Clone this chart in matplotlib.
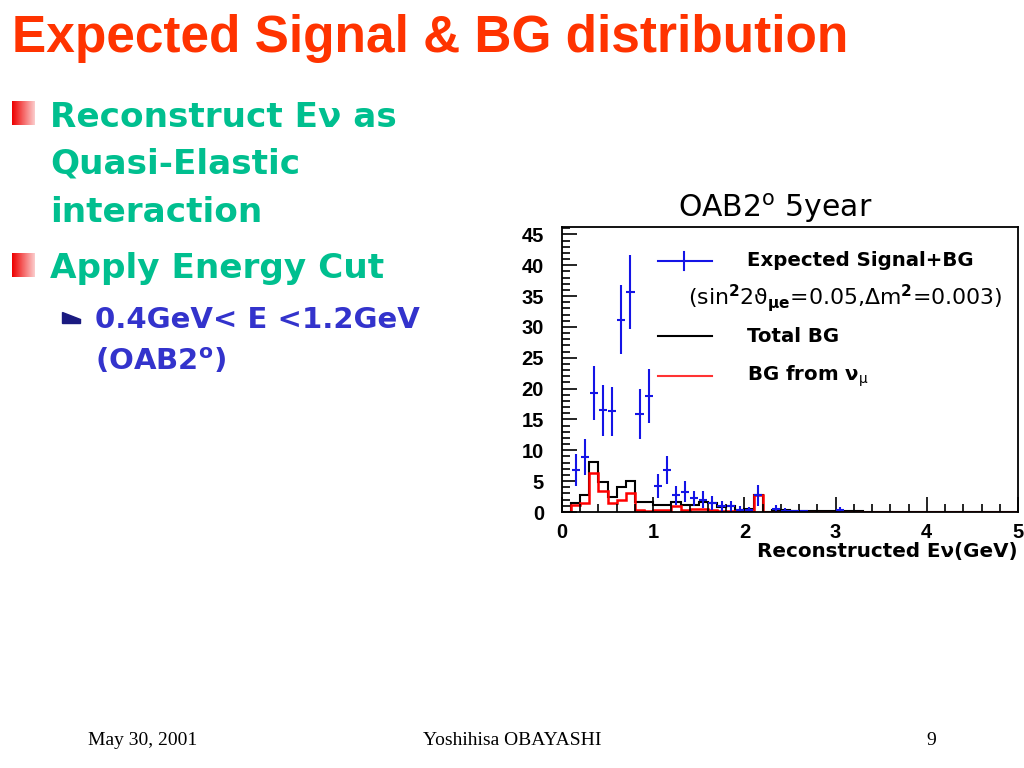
import numpy as np
import matplotlib
matplotlib.use("Agg")
import matplotlib.pyplot as plt
from matplotlib.patches import Polygon
from matplotlib.ticker import MultipleLocator

plt.rcParams['font.family'] = ['DejaVu Sans']
plt.rcParams['mathtext.fontset'] = 'custom'
plt.rcParams['mathtext.rm'] = 'DejaVu Sans'
plt.rcParams['mathtext.bf'] = 'DejaVu Sans:bold'
plt.rcParams['mathtext.it'] = 'DejaVu Sans:italic'

# signal + BG points (bin centres, counts, errors)
sig_x = [0.15, 0.25, 0.35, 0.45, 0.55, 0.65, 0.75, 0.85, 0.95, 1.05,
         1.15, 1.25, 1.35, 1.45, 1.55, 1.65, 1.75, 1.85, 1.95, 2.05,
         2.15, 2.35, 2.45, 2.55, 2.65, 3.05]
sig_y = [6.8, 8.9, 19.3, 16.5, 16.3, 31.2, 35.6, 15.9, 18.8, 4.2,
         6.8, 2.7, 3.3, 2.2, 2.0, 1.5, 0.9, 0.9, 0.4, 0.3,
         2.7, 0.5, 0.2, 0.1, 0.1, 0.3]
sig_err = [2.6, 2.9, 4.4, 4.1, 3.9, 5.6, 6.0, 4.0, 4.4, 2.0,
           2.3, 1.5, 1.7, 1.2, 1.4, 1.1, 0.9, 0.9, 0.6, 0.5,
           1.7, 0.7, 0.4, 0.3, 0.3, 0.5]

# background histograms, 0.1 GeV bins from 0 to 5 GeV
total_bg = [0.0, 1.5, 2.8, 8.1, 4.8, 2.5, 4.0, 5.0, 1.7, 1.6,
            1.1, 1.1, 1.6, 1.1, 1.2, 1.6, 1.4, 0.8, 0.9, 0.3,
            0.5, 2.7, 0.0, 0.4, 0.3, 0.2, 0.1, 0.1, 0.1, 0.1,
            0.2, 0.1, 0.1, 0.0, 0.0, 0.0, 0.0, 0.0, 0.0, 0.0,
            0.0, 0.0, 0.0, 0.0, 0.0, 0.0, 0.0, 0.0, 0.0, 0.0]
numu_bg = [0.0, 1.1, 1.4, 6.4, 3.4, 1.5, 1.9, 3.0, 0.3, 0.2,
           0.4, 0.4, 0.9, 0.4, 0.5, 0.5, 0.3, 0.15, 0.15, 0.15,
           0.15, 2.8, 0.0, 0.0, 0.0, 0.0, 0.0, 0.0, 0.0, 0.0,
           0.0, 0.0, 0.0, 0.0, 0.0, 0.0, 0.0, 0.0, 0.0, 0.0,
           0.0, 0.0, 0.0, 0.0, 0.0, 0.0, 0.0, 0.0, 0.0, 0.0]
edges = np.round(np.linspace(0, 5, len(total_bg) + 1), 2)

W, H = 1024, 768
fig = plt.figure(figsize=(W / 100, H / 100), dpi=100)
fx = lambda px: px / W
fy = lambda py: 1 - py / H

red = '#FF3300'
teal = '#00BF8F'
navy = '#3333CC'
blue = '#1414E6'

# slide title
fig.text(fx(12), fy(52), 'Expected Signal & BG distribution', color=red,
         fontsize=37, fontweight='bold', va='baseline', family='Liberation Sans')

# bullet squares with red -> white gradient
grad = np.linspace(0, 1, 64).reshape(1, -1)
cmap = matplotlib.colors.LinearSegmentedColormap.from_list('bul', ['#EE0000', '#FFFFFF'])
for top in (101, 253):
    bx = fig.add_axes([fx(12), fy(top + 24), fx(23), 24 / H])
    bx.imshow(grad, aspect='auto', cmap=cmap, vmin=0, vmax=1.25)
    bx.axis('off')

bullet_lines = [(127, 'Reconstruct Eν as'), (173, 'Quasi-Elastic'),
                (222, 'interaction'), (278, 'Apply Energy Cut')]
for yb, s in bullet_lines:
    fig.text(fx(50), fy(yb), s, color=teal, fontsize=24.7, fontweight='bold', va='baseline')

fig.patches.append(Polygon([[fx(62), fy(312)], [fx(62), fy(323)], [fx(80), fy(323)], [fx(80), fy(319)]],
                           closed=True, transform=fig.transFigure, color='#1A1A80'))
fig.text(fx(95), fy(328), '0.4GeV< E <1.2GeV', color=navy, fontsize=21,
         fontweight='bold', va='baseline')
fig.text(fx(95), fy(370), r'(OAB2$^{\mathbf{o}}$)', color=navy, fontsize=21,
         fontweight='bold', va='baseline')

# footer
for xp, s, ha in [(88, 'May 30, 2001', 'left'), (512, 'Yoshihisa OBAYASHI', 'center'),
                  (926, '9', 'left')]:
    fig.text(fx(xp), fy(745), s, fontsize=14, family='Liberation Serif', va='baseline', ha=ha)

# chart
fig.text(fx(678), fy(217), r'OAB2$^{\rm o}$ 5year', fontsize=21.5, va='baseline')

ax = fig.add_axes([fx(562), fy(512), fx(456), 285 / H])
ax.stairs(total_bg, edges, color='black', lw=1.5)
ax.stairs(numu_bg, edges, color='#FF0000', lw=1.8)
ax.errorbar(sig_x, sig_y, yerr=sig_err, xerr=0.045, fmt='none', ecolor=blue,
            elinewidth=1.5, capsize=0)
ax.set_xlim(0, 5)
ax.set_ylim(0, 46.2)
ax.xaxis.set_major_locator(MultipleLocator(1))
ax.xaxis.set_minor_locator(MultipleLocator(0.2))
ax.yaxis.set_major_locator(MultipleLocator(5))
ax.yaxis.set_minor_locator(MultipleLocator(1))
ax.tick_params(which='both', direction='in', top=False, right=False, width=1.2)
ax.tick_params(which='major', length=11, labelsize=14.5)
ax.tick_params(which='minor', length=5.5)
ax.tick_params(axis='y', pad=13)
ax.tick_params(axis='x', pad=8)
for lab in ax.get_xticklabels() + ax.get_yticklabels():
    lab.set_fontweight('bold')
    lab.set_family('Liberation Sans')
for sp in ax.spines.values():
    sp.set_linewidth(1.3)
ax.set_xlabel('Reconstructed Eν(GeV)', fontsize=14.3, fontweight='bold')
ax.xaxis.set_label_coords(1.0, -0.105)
ax.xaxis.label.set_ha('right')

# legend drawn in axes coordinates
ax_x = lambda px: (px - 562) / 456
ax_y = lambda py: (512 - py) / 285
T = ax.transAxes
ax.plot([ax_x(658), ax_x(712)], [ax_y(261), ax_y(261)], color=blue, lw=1.5, transform=T)
ax.plot([ax_x(684), ax_x(684)], [ax_y(252), ax_y(270)], color=blue, lw=1.5, transform=T)
ax.text(ax_x(747), ax_y(261), 'Expected Signal+BG', transform=T, fontsize=14.2,
        fontweight='bold', va='center')
ax.text(ax_x(688), ax_y(298), r'(sin$^{\mathbf{2}}$2ϑ$_{\mathbf{μe}}$=0.05,Δm$^{\mathbf{2}}$=0.003)',
        transform=T, fontsize=15.8, va='center')
ax.plot([ax_x(658), ax_x(712)], [ax_y(336), ax_y(336)], color='black', lw=1.5, transform=T)
ax.text(ax_x(747), ax_y(336), 'Total BG', transform=T, fontsize=14.2, fontweight='bold', va='center')
ax.plot([ax_x(658), ax_x(712)], [ax_y(376), ax_y(376)], color='#FF3333', lw=1.5, transform=T)
ax.text(ax_x(747), ax_y(376), r'BG from ν$_{\rm μ}$', transform=T, fontsize=14.2,
        fontweight='bold', va='center')

fig.savefig('out.png', dpi=100)
